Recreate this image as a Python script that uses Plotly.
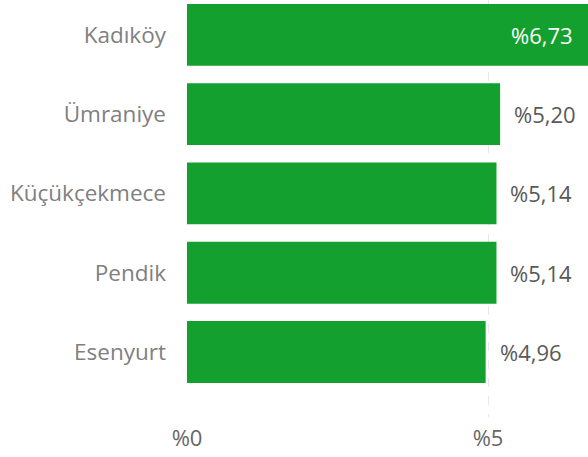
import plotly.graph_objects as go

categories = ["Kadıköy", "Ümraniye", "Küçükçekmece", "Pendik", "Esenyurt"]
values = [6.73, 5.20, 5.14, 5.14, 4.96]
x_tick_vals = [0, 5]
x_tick_text = ["%0", "%5"]

XMAX = 6.66
FONT = "Open Sans, Noto Sans, sans-serif"

def fmt(v):
    return "%" + f"{v:.2f}".replace(".", ",")

fig = go.Figure(go.Bar(
    y=categories, x=values, orientation="h",
    marker=dict(color="#13A02F", line=dict(width=0)),
    width=0.78, hoverinfo="skip",
))

annotations = []
for c, v in zip(categories, values):
    if v > XMAX:
        annotations.append(dict(x=XMAX, y=c, xref="x", yref="y", text=fmt(v),
                                showarrow=False, xanchor="right", xshift=-13,
                                font=dict(family=FONT, size=22, color="#ffffff")))
    else:
        annotations.append(dict(x=v, y=c, xref="x", yref="y", text=fmt(v),
                                showarrow=False, xanchor="left", xshift=12,
                                font=dict(family=FONT, size=22, color="#595959")))

fig.update_layout(
    width=588, height=457,
    margin=dict(l=187, r=0, t=0, b=40),
    paper_bgcolor="white", plot_bgcolor="white",
    showlegend=False,
    font=dict(family=FONT),
    annotations=annotations,
    xaxis=dict(range=[0, XMAX], tickvals=x_tick_vals, ticktext=x_tick_text,
               showgrid=True, gridcolor="#e8e8e8", griddash="dash", gridwidth=1,
               zeroline=False, showline=False, ticks="", ticklabelstandoff=6,
               tickfont=dict(family=FONT, size=22, color="#666666")),
    yaxis=dict(categoryorder="array", categoryarray=categories,
               range=[4.82, -0.44], showgrid=False, zeroline=False,
               showline=False, ticks="", ticklabelstandoff=20,
               tickfont=dict(family=FONT, size=22.5, color="#808080")),
)

fig.write_html("out.html", config={"displayModeBar": False},
               post_script="document.body.style.margin='0';document.body.style.overflow='hidden';")
